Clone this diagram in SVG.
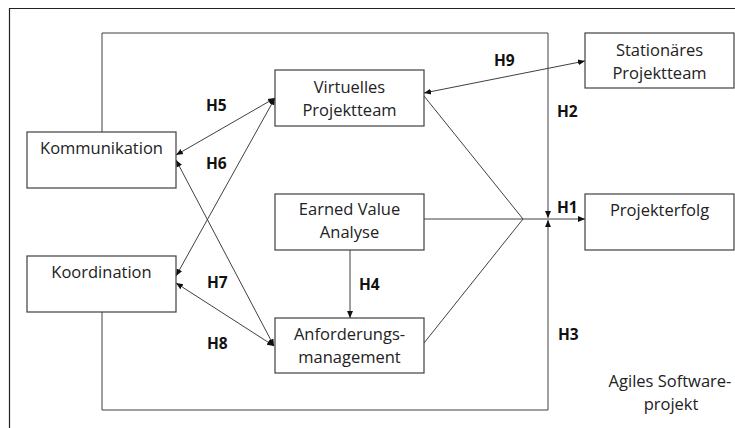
<svg xmlns="http://www.w3.org/2000/svg" width="735" height="428" viewBox="0 0 735 428">
<style>
.box{fill:#fff;stroke:#404040;stroke-width:1.2}
.t{font-family:"Open Sans","Liberation Sans",sans-serif;font-size:16.5px;fill:#222;text-anchor:middle}
.h{font-family:"Open Sans","Liberation Sans",sans-serif;font-size:15.5px;font-weight:bold;fill:#111}
.c{fill:none;stroke:#404040;stroke-width:1}
</style>
<defs>
<marker id="ah" markerUnits="userSpaceOnUse" markerWidth="8" markerHeight="8" viewBox="0 0 8 8" refX="7" refY="4" orient="auto-start-reverse">
<path d="M0,1 L7,4 L0,7 Z" fill="#111"/>
</marker>
</defs>
<rect width="735" height="428" fill="#fff"/>
<path d="M9.5,428 V8.5 H735" fill="none" stroke="#222" stroke-width="1.2"/>
<g id="connectors">
<path class="c" d="M102,132 V33 H548 V218" marker-end="url(#ah)"/>
<path class="c" d="M102,312 V410 H548 V220" marker-end="url(#ah)"/>
<path class="c" d="M424,96 L523,219"/>
<path class="c" d="M424,343 L523,219"/>
<path class="c" d="M424,219 H585" marker-end="url(#ah)"/>
<path class="c" d="M350,250 V318" marker-end="url(#ah)"/>
<path class="c" d="M176,155 L275,98" marker-start="url(#ah)" marker-end="url(#ah)"/>
<path class="c" d="M176,276 L275,98" marker-start="url(#ah)" marker-end="url(#ah)"/>
<path class="c" d="M176,160 L274,346" marker-start="url(#ah)" marker-end="url(#ah)"/>
<path class="c" d="M176,283 L274,346" marker-start="url(#ah)" marker-end="url(#ah)"/>
<path class="c" d="M424,93 L585,61" marker-start="url(#ah)" marker-end="url(#ah)"/>
</g>
<g id="labels">
<text class="h" x="557" y="213">H1</text>
<text class="h" x="557" y="117">H2</text>
<text class="h" x="558" y="340">H3</text>
<text class="h" x="359" y="290">H4</text>
<text class="h" x="206" y="111">H5</text>
<text class="h" x="206" y="169">H6</text>
<text class="h" x="207" y="288">H7</text>
<text class="h" x="207" y="349">H8</text>
<text class="h" x="494" y="66">H9</text>
</g>
<g id="kommunikation"><rect class="box" x="27" y="132" width="149" height="56"/><text class="t" x="101.5" y="154">Kommunikation</text></g>
<g id="koordination"><rect class="box" x="27" y="256" width="149" height="56"/><text class="t" x="101.5" y="278">Koordination</text></g>
<g id="virtuelles"><rect class="box" x="275" y="70" width="149" height="56"/><text class="t" x="349.5" y="93">Virtuelles</text><text class="t" x="349.5" y="116">Projektteam</text></g>
<g id="eva"><rect class="box" x="275" y="194" width="149" height="56"/><text class="t" x="349.5" y="215">Earned Value</text><text class="t" x="349.5" y="238">Analyse</text></g>
<g id="anforderung"><rect class="box" x="275" y="318" width="149" height="55"/><text class="t" x="349.5" y="340">Anforderungs-</text><text class="t" x="349.5" y="363">management</text></g>
<g id="stationaer"><rect class="box" x="585" y="33" width="149" height="55"/><text class="t" x="659.5" y="56">Stationäres</text><text class="t" x="659.5" y="79">Projektteam</text></g>
<g id="projekterfolg"><rect class="box" x="585" y="194" width="149" height="56"/><text class="t" x="659.5" y="216">Projekterfolg</text></g>
<g id="agiles"><text class="t" x="670" y="387">Agiles Software-</text><text class="t" x="671" y="410">projekt</text></g>
</svg>
